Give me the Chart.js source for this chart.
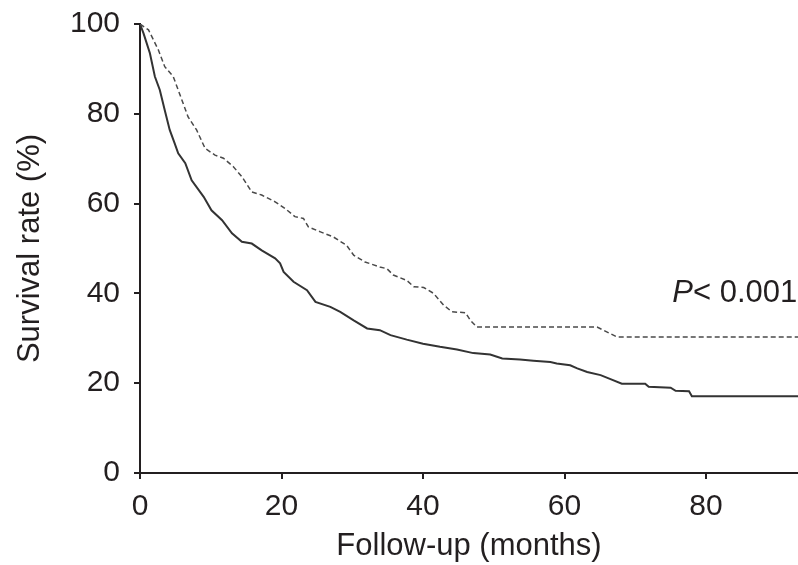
<!DOCTYPE html>
<html>
<head>
<meta charset="utf-8">
<script src="https://cdn.jsdelivr.net/npm/chart.js@4.4.1/dist/chart.umd.min.js"></script>
<style>
    html, body { margin: 0; padding: 0; background: #fff; }
    #wrap { width: 798px; height: 565px; }
</style>
</head>
<body>
<div id="wrap"><canvas id="survivalChart" width="798" height="565"></canvas></div>
<script>
// follow-up in months / survival rate in %
const dashedMonths = [0, 1.2, 2.6, 3.5, 4.7, 5.4, 6.8, 8.0, 9.2, 10.6, 11.8, 13.2, 14.4, 15.8, 17.2, 19.1,
    20.5, 21.9, 23.1, 23.8, 25.5, 27.3, 29.2, 30.2, 31.8, 33.9, 34.9, 35.8, 37.7, 38.7, 40.1, 41.5,
    42.9, 44.1, 46.0, 46.7, 47.6, 64.6, 65.5, 67.4, 93];
const dashedSurvival = [100, 98.7, 94.2, 90.5, 88.3, 85.3, 79.3, 76.4, 72.3, 70.8, 70.1, 68.2, 66.0, 62.6, 61.9, 60.4,
    58.9, 57.1, 56.7, 54.8, 53.7, 52.6, 50.7, 48.5, 47.0, 45.9, 45.5, 44.1, 42.9, 41.5, 41.3, 40.0,
    37.4, 35.9, 35.7, 34.0, 32.5, 32.5, 31.8, 30.3, 30.3];

const solidMonths = [0, 0.5, 1.4, 2.1, 2.8, 3.5, 4.2, 4.9, 5.4, 6.4, 7.3, 9.0, 10.1, 11.6, 13.0, 14.4, 15.8,
    17.2, 19.1, 19.8, 20.3, 21.7, 23.6, 24.8, 26.9, 28.3, 30.2, 32.1, 33.9, 35.4, 37.7, 40.0, 42.4,
    44.8, 47.1, 49.5, 51.2, 53.7, 55.6, 58.0, 58.9, 60.8, 61.8, 63.2, 65.1, 66.5, 68.1, 71.4, 71.9,
    75.0, 75.7, 77.6, 78.0, 93];
const solidSurvival = [100, 97.9, 93.5, 88.3, 85.3, 80.8, 76.4, 73.4, 71.2, 69.0, 65.2, 61.5, 58.5, 56.3, 53.4, 51.5, 51.1,
    49.6, 47.8, 46.7, 44.8, 42.6, 40.7, 38.1, 37.0, 35.9, 34.0, 32.2, 31.8, 30.7, 29.7, 28.8, 28.1,
    27.5, 26.7, 26.4, 25.5, 25.3, 25.0, 24.7, 24.4, 24.0, 23.3, 22.5, 21.8, 20.9, 19.9, 19.9, 19.2,
    19.0, 18.3, 18.2, 17.1, 17.1];

const xTicks = [0, 20, 40, 60, 80];
const yTicks = [0, 20, 40, 60, 80, 100];

const pValueText = '< 0.001';
const pValuePos = { x: 92.9, y: 38.1 };

const FONT = '"Liberation Sans", Arial, Helvetica, sans-serif';
const INK = '#231f20';

function toPoints(xs, ys) {
    return xs.map((x, i) => ({ x: x, y: ys[i] }));
}

const pValueLabel = {
    id: 'pValueLabel',
    afterDatasetsDraw(chart) {
        const ctx = chart.ctx;
        const px = chart.scales.x.getPixelForValue(pValuePos.x);
        const py = chart.scales.y.getPixelForValue(pValuePos.y);
        ctx.save();
        ctx.fillStyle = INK;
        ctx.textBaseline = 'alphabetic';
        ctx.textAlign = 'left';
        ctx.font = '31px ' + FONT;
        const restWidth = ctx.measureText(pValueText).width;
        ctx.font = 'italic 31px ' + FONT;
        const pWidth = ctx.measureText('P').width;
        const start = px - restWidth - pWidth;
        ctx.fillText('P', start, py);
        ctx.font = '31px ' + FONT;
        ctx.fillText(pValueText, start + pWidth, py);
        ctx.restore();
    }
};

new Chart(document.getElementById('survivalChart'), {
    type: 'line',
    data: {
        datasets: [
            {
                label: 'Group 1',
                data: toPoints(dashedMonths, dashedSurvival),
                borderColor: '#4a4a4a',
                borderWidth: 1.5,
                borderDash: [5, 3],
                pointRadius: 0,
                tension: 0,
                fill: false
            },
            {
                label: 'Group 2',
                data: toPoints(solidMonths, solidSurvival),
                borderColor: '#333333',
                borderWidth: 2,
                pointRadius: 0,
                tension: 0,
                fill: false
            }
        ]
    },
    options: {
        responsive: false,
        animation: false,
        layout: { padding: { top: 24, right: 0, left: 0, bottom: 0 } },
        plugins: {
            legend: { display: false },
            tooltip: { enabled: false }
        },
        scales: {
            x: {
                type: 'linear',
                min: 0,
                max: 93,
                afterBuildTicks: (scale) => { scale.ticks = xTicks.map(v => ({ value: v })); },
                afterFit: (scale) => { scale.height = 92; },
                border: { color: INK, width: 2 },
                grid: { drawOnChartArea: false, drawTicks: true, tickLength: 6, color: INK, lineWidth: 2 },
                ticks: { color: INK, padding: 10, font: { family: FONT, size: 30 }, maxRotation: 0 },
                title: {
                    display: true,
                    text: 'Follow-up (months)',
                    color: INK,
                    font: { family: FONT, size: 31 },
                    padding: { top: 0, bottom: 0 }
                }
            },
            y: {
                min: 0,
                max: 100,
                afterBuildTicks: (scale) => { scale.ticks = yTicks.map(v => ({ value: v })); },
                afterFit: (scale) => {
                    scale.width = 140;
                    scale.paddingTop = 0;
                    scale.paddingBottom = 0;
                },
                border: { color: INK, width: 2 },
                grid: { drawOnChartArea: false, drawTicks: true, tickLength: 6, color: INK, lineWidth: 2 },
                ticks: { color: INK, padding: 14, font: { family: FONT, size: 30 } },
                title: {
                    display: true,
                    text: 'Survival rate (%)',
                    color: INK,
                    font: { family: FONT, size: 31 },
                    padding: { top: 12, bottom: 0 }
                }
            }
        }
    },
    plugins: [pValueLabel]
});
</script>
</body>
</html>
